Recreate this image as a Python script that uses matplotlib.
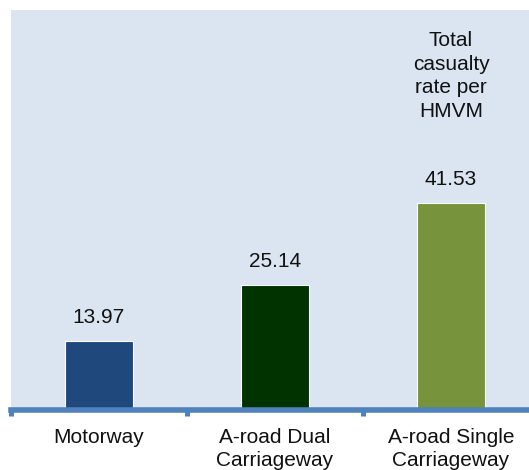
import matplotlib.pyplot as plt
from matplotlib.transforms import blended_transform_factory

plt.rcParams['font.family'] = ['Liberation Sans', 'DejaVu Sans']

categories = ["Motorway", "A-road Dual\nCarriageway", "A-road Single\nCarriageway"]
rates = [13.97, 25.14, 41.53]
bar_colors = ["#1f497d", "#003300", "#77933c"]
series_name = "Total\ncasualty\nrate per\nHMVM"

W, H = 529, 470
fig = plt.figure(figsize=(W / 100, H / 100), dpi=100)
# axes span three category slots of 176px, the last one runs off the right edge
ax = fig.add_axes([11 / W, (H - 409.7) / H, 528 / W, 399.7 / H])
ax.set_facecolor("#dbe5f1")

x = list(range(len(rates)))
ax.bar(x, rates, width=0.39, color=bar_colors, edgecolor="white", linewidth=0.8, zorder=2)

for xi, v in zip(x, rates):
    ax.annotate(f"{v:.2f}", (xi, v), xytext=(0, 17.3), textcoords="offset points",
                ha="center", va="center", fontsize=15, color="#111111")

ax.text(2, 0.835, series_name, transform=blended_transform_factory(ax.transData, ax.transAxes),
        ha="center", va="center", fontsize=15, linespacing=1.3, color="#111111")

ax.set_xlim(-0.5, 2.5)
# zero sits just under the thick axis line
ax.set_ylim(0.3, 80.2)

for side in ["top", "right", "left"]:
    ax.spines[side].set_visible(False)
ax.spines["bottom"].set_color("#4f81bd")
ax.spines["bottom"].set_linewidth(4)
ax.spines["bottom"].set_zorder(3)

ax.set_yticks([])
ax.set_xticks([-0.5, 0.5, 1.5, 2.5])
ax.set_xticklabels([])
ax.tick_params(axis="x", which="major", direction="out", length=4.5, width=3.6, color="#4f81bd")
ax.set_xticks(x, minor=True)
ax.set_xticklabels(categories, minor=True, fontsize=15, linespacing=1.3, color="#111111")
ax.tick_params(axis="x", which="minor", length=0, pad=13)

fig.savefig("out.png", dpi=100)
